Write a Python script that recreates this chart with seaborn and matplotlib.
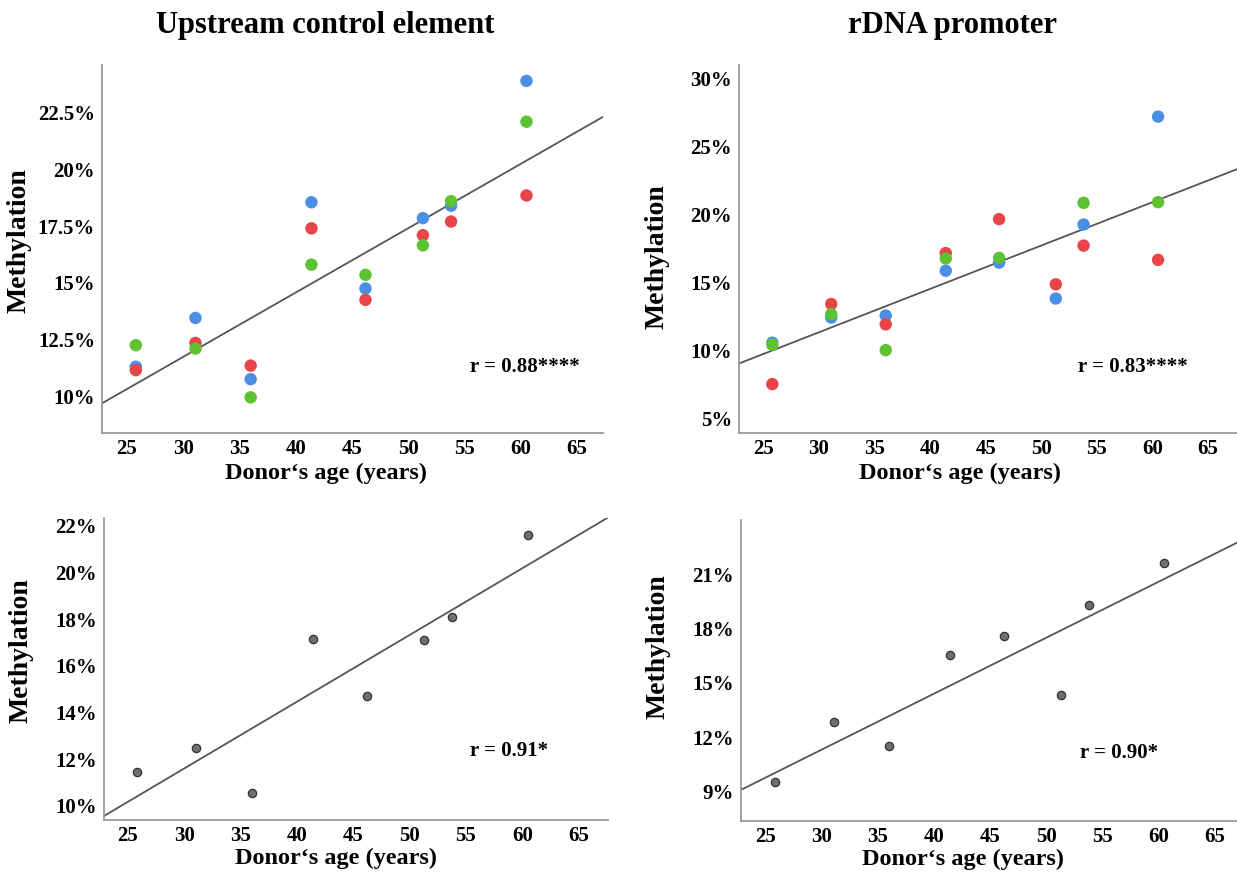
import numpy as np
import pandas as pd
import matplotlib
matplotlib.use("Agg")
import matplotlib.pyplot as plt
from matplotlib.ticker import FuncFormatter, FixedLocator
import seaborn as sns

# ---------------- data ----------------
ages = [25.8, 31.1, 36.0, 41.4, 46.2, 51.3, 53.8, 60.5]

uce_blue = [11.3, 13.45, 10.75, 18.55, 14.75, 17.85, 18.4, 23.9]
uce_red = [11.15, 12.35, 11.35, 17.4, 14.25, 17.1, 17.7, 18.85]
uce_green = [12.25, 12.1, 9.95, 15.8, 15.35, 16.65, 18.6, 22.1]
uce_mean = [11.45, 12.5, 10.55, 17.15, 14.7, 17.1, 18.1, 21.6]

rdna_blue = [10.55, 12.4, 12.55, 15.85, 16.45, 13.8, 19.25, 27.2]
rdna_red = [7.5, 13.4, 11.9, 17.15, 19.65, 14.85, 17.7, 16.65]
rdna_green = [10.4, 12.65, 10.0, 16.75, 16.8, np.nan, 20.85, 20.9]
rdna_mean = [9.5, 12.85, 11.5, 16.55, 17.6, 14.3, 19.3, 21.6]

titles = ["Upstream control element", "rDNA promoter"]
r_labels = ["r = 0.88****", "r = 0.83****", "r = 0.91*", "r = 0.90*"]
xticks = [25, 30, 35, 40, 45, 50, 55, 60, 65]
yticks_uce = [10, 12.5, 15, 17.5, 20, 22.5]
yticks_rdna = [5, 10, 15, 20, 25, 30]
yticks_uce_mean = [10, 12, 14, 16, 18, 20, 22]
yticks_rdna_mean = [9, 12, 15, 18, 21]
series_names = ["blue", "red", "green"]
palette = {"blue": "#4a8ee6", "red": "#e8444a", "green": "#5ec232"}

# ---------------- style ----------------
sns.set_theme(style="white")
plt.rcParams["font.family"] = ["Liberation Serif", "DejaVu Serif"]
plt.rcParams["font.weight"] = "bold"
plt.rcParams["text.color"] = "black"
plt.rcParams["axes.labelcolor"] = "black"
plt.rcParams["xtick.color"] = "black"
plt.rcParams["ytick.color"] = "black"

fig = plt.figure(figsize=(12.37, 8.74), dpi=100)

positions = [
    [0.0825, 0.5046, 0.405, 0.421],
    [0.5974, 0.5046, 0.4026, 0.421],
    [0.0841, 0.0618, 0.4074, 0.3455],
    [0.599, 0.0606, 0.401, 0.3444],
]
xlims = [(22.8, 67.3), (22.8, 67.6), (22.9, 67.6), (22.8, 67.0)]
ylims = [(8.38, 24.6), (3.9, 31.0), (9.4, 22.33), (7.36, 23.98)]
yticks_all = [yticks_uce, yticks_rdna, yticks_uce_mean, yticks_rdna_mean]
ylab_pos = [(-0.14, 0.524), (-0.14, 0.478), (-0.139, 0.56), (-0.143, 0.58)]
xlab_pos = [(0.447, -0.082), (0.444, -0.082), (0.46, -0.092), (0.447, -0.092)]
r_pos = [(0.735, 0.18), (0.68, 0.18), (0.726, 0.23), (0.683, 0.226)]

def long_df(b, r, g):
    frames = []
    for name, vals in zip(series_names, [b, r, g]):
        frames.append(pd.DataFrame({"age": ages, "meth": vals, "series": name}))
    return pd.concat(frames, ignore_index=True).dropna()

dfs = [
    long_df(uce_blue, uce_red, uce_green),
    long_df(rdna_blue, rdna_red, rdna_green),
    pd.DataFrame({"age": ages, "meth": uce_mean}),
    pd.DataFrame({"age": ages, "meth": rdna_mean}),
]

pct = FuncFormatter(lambda v, p: f"{v:g}%")

for i in range(4):
    ax = fig.add_axes(positions[i])
    df = dfs[i]
    ax.set_xlim(*xlims[i])
    ax.set_ylim(*ylims[i])
    # regression line across full axis
    sns.regplot(data=df, x="age", y="meth", ax=ax, scatter=False, ci=None,
                truncate=False, line_kws={"color": "#555555", "lw": 1.3})
    if i < 2:
        sns.scatterplot(data=df, x="age", y="meth", hue="series",
                        hue_order=series_names, palette=palette, s=80,
                        linewidth=0, ax=ax, legend=False, zorder=3)
    else:
        sns.scatterplot(data=df, x="age", y="meth", color="#6e6e6e", s=36,
                        edgecolor="#333333", linewidth=0.9, ax=ax,
                        legend=False, zorder=3)
    ax.set_xlim(*xlims[i])
    ax.set_ylim(*ylims[i])
    ax.xaxis.set_major_locator(FixedLocator(xticks))
    ax.yaxis.set_major_locator(FixedLocator(yticks_all[i]))
    ax.yaxis.set_major_formatter(pct)
    for s in ["top", "right"]:
        ax.spines[s].set_visible(False)
    for s in ["left", "bottom"]:
        ax.spines[s].set_color("#9a9a9a")
        ax.spines[s].set_linewidth(1.3)
    ax.tick_params(axis="both", length=0, labelsize=15, colors="black")
    ax.tick_params(axis="x", pad=4)
    ax.tick_params(axis="y", pad=5)
    for lab in ax.get_xticklabels() + ax.get_yticklabels():
        lab.set_fontweight("bold")
    ax.set_xlabel("Donor\u2018s age (years)", fontsize=17.5, fontweight="bold")
    ax.set_ylabel("Methylation", fontsize=20, fontweight="bold")
    ax.xaxis.set_label_coords(*xlab_pos[i])
    ax.yaxis.set_label_coords(*ylab_pos[i])
    ax.text(r_pos[i][0], r_pos[i][1], r_labels[i], transform=ax.transAxes,
            fontsize=15, fontweight="bold", va="center", ha="left")
    ax.grid(False)
    ax.set_facecolor("white")

fig.text(325 / 1237, 1 - 25 / 874, titles[0], ha="center", va="center",
         fontsize=22, fontweight="bold")
fig.text(953 / 1237, 1 - 25 / 874, titles[1], ha="center", va="center",
         fontsize=22, fontweight="bold")

fig.savefig("out.png", dpi=100, facecolor="white")
